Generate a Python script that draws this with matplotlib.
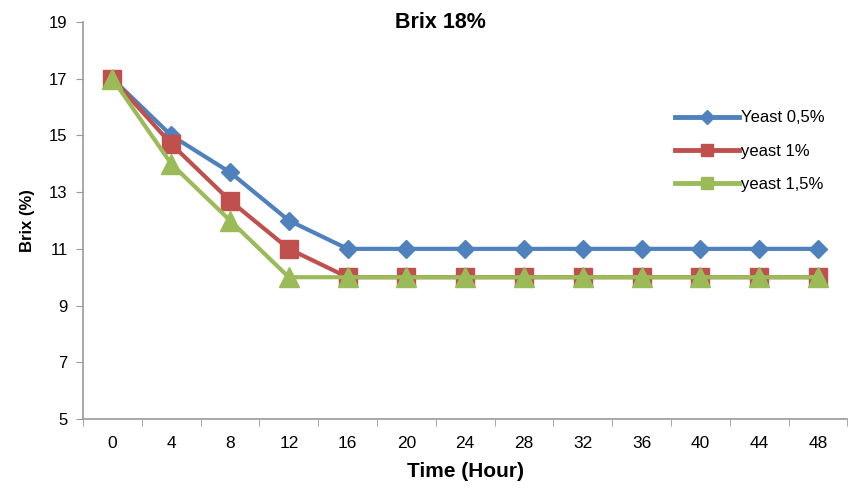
import numpy as np
import matplotlib
matplotlib.use("Agg")
import matplotlib.pyplot as plt
from matplotlib.lines import Line2D

plt.rcParams['font.family'] = ['Liberation Sans', 'DejaVu Sans']

hours = [0, 4, 8, 12, 16, 20, 24, 28, 32, 36, 40, 44, 48]
yeast_05 = [17, 15, 13.7, 12, 11, 11, 11, 11, 11, 11, 11, 11, 11]
yeast_1 = [17, 14.7, 12.7, 11, 10, 10, 10, 10, 10, 10, 10, 10, 10]
yeast_15 = [17, 14, 12, 10, 10, 10, 10, 10, 10, 10, 10, 10, 10]
y_ticks = [5, 7, 9, 11, 13, 15, 17, 19]
labels = ['Yeast 0,5%', 'yeast 1%', 'yeast 1,5%']
colors = ['#4F81BD', '#C0504D', '#9BBB59']

fig = plt.figure(figsize=(8.48, 4.91), dpi=100)
ax = fig.add_axes([83 / 848, 1 - 419 / 491, (847.5 - 83) / 848, (419 - 22) / 491])

x = np.arange(len(hours))
ax.plot(x, yeast_05, color=colors[0], lw=3, marker='D', ms=9, zorder=3)
ax.plot(x, yeast_1, color=colors[1], lw=3, marker='s', ms=12.5, zorder=4)
ax.plot(x, yeast_15, color=colors[2], lw=3, marker='^', ms=14.5, zorder=5)

ax.set_xlim(-0.5, len(hours) - 0.5)
ax.set_ylim(5, 19)
ax.set_yticks(y_ticks)
ax.set_yticklabels([str(v) for v in y_ticks], fontsize=12)
ax.set_xticks(x)
ax.set_xticklabels([str(h) for h in hours], fontsize=12.5)
ax.tick_params(axis='x', length=0, pad=12)
ax.set_xticks(np.arange(len(hours) + 1) - 0.5, minor=True)
ax.tick_params(axis='x', which='minor', length=5, color='#9a9a9a', direction='out')
ax.tick_params(axis='y', length=5, color='#9a9a9a', direction='out', pad=6)

for side in ['top', 'right']:
    ax.spines[side].set_visible(False)
for side in ['left', 'bottom']:
    ax.spines[side].set_color('#9a9a9a')
    ax.spines[side].set_linewidth(1.2)

ax.set_xlabel('Time (Hour)', fontsize=15, fontweight='bold', labelpad=8)
ax.set_ylabel('Brix (%)', fontsize=12, fontweight='bold', labelpad=10)
fig.text(440 / 848, 1 - 22 / 491, 'Brix 18%', fontsize=15.5, fontweight='bold', ha='center', va='center')

# legend in the reference shows a square for the green series
handles = [
    Line2D([], [], color=colors[0], lw=3.5, marker='D', ms=7),
    Line2D([], [], color=colors[1], lw=3.5, marker='s', ms=9),
    Line2D([], [], color=colors[2], lw=3.5, marker='s', ms=8),
]
leg = ax.legend(handles, labels, loc='upper left', bbox_to_anchor=(0.755, 0.815), frameon=False,
                fontsize=12, handlelength=3.8, handletextpad=0.15, labelspacing=1.1)

fig.savefig('out.png', dpi=100)
